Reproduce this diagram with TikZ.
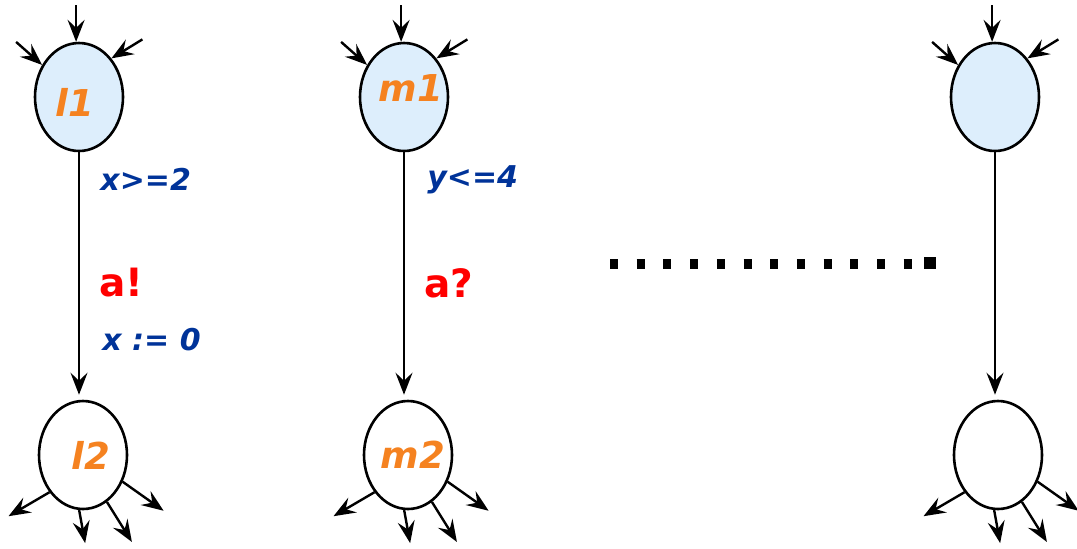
\documentclass[tikz,border=0pt]{standalone}
\usepackage{fontspec}
\setmainfont{DejaVu Sans}
\usetikzlibrary{shapes.geometric, arrows.meta, calc}

\definecolor{locfill}{RGB}{221,238,252}
\definecolor{locname}{RGB}{245,130,32}
\definecolor{guardblue}{RGB}{0,51,153}

\begin{document}
\begin{tikzpicture}[x=0.5pt, y=-0.5pt,
    loc/.style={draw, ellipse, line width=1.3pt, minimum width=44pt, minimum height=54pt, inner sep=0pt, fill=white},
    initloc/.style={loc, fill=locfill},
    locname/.style={text=locname, font=\fontsize{18.5}{20}\selectfont\bfseries\itshape, inner sep=0pt},
    guard/.style={anchor=west, text=guardblue, font=\fontsize{15}{17}\selectfont\bfseries\itshape, inner sep=0pt},
    sync/.style={anchor=west, text=red, font=\fontsize{19.5}{21}\selectfont\bfseries, inner sep=0pt},
    arrow/.style={-{Stealth[length=11pt, width=8.5pt, inset=4pt]}, line width=1.2pt},
    inarrow/.style={{Stealth[length=11pt, width=8.5pt, inset=4pt]}-, line width=1.2pt}
]
    \useasboundingbox (0,0) rectangle (1077,548);

    % First automaton
    \node (l1) [initloc] at (79,97) {};
    \node (l2) [loc] at (83,455) {};
    \node (l1name) [locname] at (75,102) {l1};
    \node (l2name) [locname] at (91,455) {l2};

    % Second automaton
    \node (m1) [initloc] at (404,97) {};
    \node (m2) [loc] at (408,455) {};
    \node (m1name) [locname] at (411,88) {m1};
    \node (m2name) [locname] at (413,455) {m2};

    % Remaining automaton
    \node (n1) [initloc] at (995,97) {};
    \node (n2) [loc] at (998,455) {};

    % Edge labels
    \node (g1) [guard] at (100,179) {x>=2};
    \node (s1) [sync] at (99,283) {a!};
    \node (r1) [guard] at (102,340) {x := 0};
    \node (g2) [guard] at (427,180) {y<=4};
    \node (s2) [sync] at (424,283) {a?};

    % Transitions
    \draw [arrow, shorten >=2.5pt] (l1.south) -- (l1.south |- l2.north);
    \draw [arrow, shorten >=2.5pt] (m1.south) -- (m1.south |- m2.north);
    \draw [arrow, shorten >=2.5pt] (n1.south) -- (n1.south |- n2.north);

    % Incoming stubs
    \draw [inarrow] (l1.93) -- ++(0,-37);
    \draw [inarrow] (l1.139) -- ++(-26,-23);
    \draw [inarrow] (l1.50) -- ++(31,-19);
    \draw [inarrow] (m1.93) -- ++(0,-37);
    \draw [inarrow] (m1.139) -- ++(-26,-23);
    \draw [inarrow] (m1.50) -- ++(31,-19);
    \draw [inarrow] (n1.93) -- ++(0,-37);
    \draw [inarrow] (n1.139) -- ++(-26,-23);
    \draw [inarrow] (n1.50) -- ++(31,-19);

    % Outgoing stubs
    \draw [arrow] (l2.228) -- ++(-41,24);
    \draw [arrow] (l2.266) -- ++(6,33);
    \draw [arrow] (l2.297) -- ++(25,40);
    \draw [arrow] (l2.326) -- ++(41,29);
    \draw [arrow] (m2.228) -- ++(-41,24);
    \draw [arrow] (m2.266) -- ++(6,33);
    \draw [arrow] (m2.297) -- ++(25,40);
    \draw [arrow] (m2.326) -- ++(41,29);
    \draw [arrow] (n2.228) -- ++(-41,24);
    \draw [arrow] (n2.266) -- ++(6,33);
    \draw [arrow] (n2.297) -- ++(25,40);
    \draw [arrow] (n2.326) -- ++(41,29);

    % Dots between the automata
    \draw [line width=5pt, dash pattern=on 4pt off 9.35pt] (610,264) -- (912,264);
    \fill (924,257) rectangle (936,269);

\end{tikzpicture}
\end{document}
